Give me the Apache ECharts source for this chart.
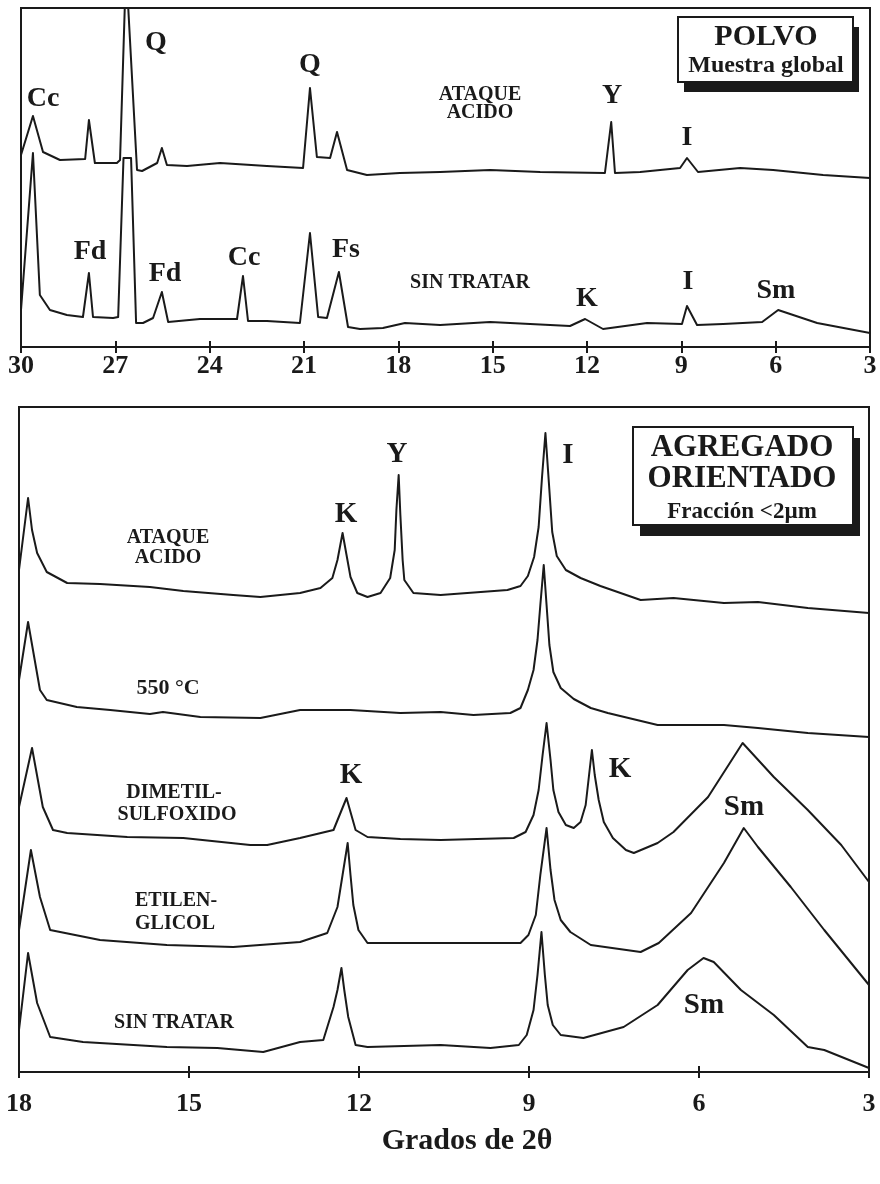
<!DOCTYPE html>
<html>
<head>
<meta charset="utf-8">
<script src="https://cdn.jsdelivr.net/npm/echarts@6/dist/echarts.min.js"></script>
<style>
  html, body { margin: 0; background: #fff; }
  #chart { width: 880px; height: 1184px; }
</style>
</head>
<body>
<div id="chart"></div>
<script>
// ---- POLVO (muestra global), 2θ 30 -> 3
const polvoAtaqueTheta = [30.0, 29.62, 29.30, 28.76, 27.96, 27.84, 27.65, 26.95, 26.85, 26.66, 26.31, 26.15, 25.67, 25.52, 25.36, 24.72, 23.67, 22.18, 21.03, 20.81, 20.59, 20.17, 19.95, 19.63, 19.0, 17.95, 16.67, 15.08, 13.49, 11.43, 11.23, 11.11, 10.31, 9.04, 8.82, 8.47, 7.13, 6.08, 4.49, 3.0];
const polvoAtaqueInt = [192, 231, 195, 187, 188, 227, 184, 184, 187, 380, 177, 176, 184, 199, 182, 181, 184, 181, 179, 259, 190, 189, 215, 177, 172, 174, 175, 177, 175, 174, 225, 174, 175, 179, 189, 175, 179, 177, 172, 169];

const polvoSinTheta = [30.0, 29.62, 29.40, 29.08, 28.54, 28.03, 27.84, 27.71, 27.07, 26.91, 26.74, 26.50, 26.34, 26.12, 25.80, 25.52, 25.32, 24.31, 23.13, 22.94, 22.78, 22.18, 21.13, 20.81, 20.55, 20.27, 19.89, 19.60, 19.22, 18.49, 17.79, 16.67, 15.08, 12.54, 12.06, 11.49, 10.09, 8.98, 8.82, 8.50, 7.67, 6.43, 5.92, 4.68, 3.0];
const polvoSinInt = [37, 194, 52, 37, 32, 30, 74, 30, 29, 30, 189, 189, 24, 24, 29, 55, 25, 28, 28, 71, 26, 26, 24, 114, 30, 29, 75, 20, 18, 19, 24, 22, 25, 21, 28, 18, 24, 23, 41, 22, 23, 25, 37, 24, 14];

// ---- AGREGADO ORIENTADO (<2um), 2θ 18 -> 3
const aoAtaqueTheta = [18.0, 17.84, 17.77, 17.68, 17.51, 17.15, 16.57, 15.69, 15.10, 14.22, 13.74, 13.04, 12.68, 12.47, 12.38, 12.29, 12.22, 12.15, 12.03, 11.85, 11.62, 11.45, 11.37, 11.34, 11.30, 11.27, 11.23, 11.20, 11.04, 10.56, 9.38, 9.15, 9.02, 8.91, 8.83, 8.77, 8.71, 8.65, 8.59, 8.51, 8.35, 8.09, 7.74, 7.03, 6.45, 5.56, 4.96, 4.08, 3.0];
const aoAtaqueInt = [502, 574, 542, 519, 500, 489, 488, 485, 481, 477, 475, 479, 484, 494, 512, 539, 517, 495, 479, 475, 479, 494, 522, 562, 597, 557, 512, 492, 479, 477, 482, 486, 496, 515, 545, 595, 639, 590, 540, 516, 502, 494, 486, 472, 474, 469, 470, 464, 459];

const ao550Theta = [18.0, 17.84, 17.63, 17.51, 16.98, 16.39, 15.69, 15.46, 14.80, 13.74, 13.04, 12.15, 11.27, 10.56, 9.98, 9.33, 9.15, 9.02, 8.92, 8.85, 8.80, 8.74, 8.69, 8.64, 8.57, 8.44, 8.21, 7.91, 7.61, 6.73, 5.56, 4.96, 4.08, 3.0];
const ao550Int = [392, 450, 382, 372, 365, 362, 358, 360, 355, 354, 362, 362, 359, 360, 357, 359, 364, 382, 402, 432, 467, 507, 467, 427, 400, 384, 373, 364, 359, 347, 347, 344, 339, 335];

const aoDmsoTheta = [18.0, 17.77, 17.58, 17.40, 17.15, 16.09, 15.10, 13.92, 13.62, 13.04, 12.45, 12.22, 12.06, 11.85, 11.27, 10.56, 9.27, 9.06, 8.92, 8.83, 8.76, 8.69, 8.62, 8.57, 8.48, 8.35, 8.21, 8.09, 8.00, 7.95, 7.89, 7.84, 7.77, 7.68, 7.52, 7.29, 7.15, 6.73, 6.45, 5.84, 5.23, 4.68, 4.08, 3.49, 3.0];
const aoDmsoInt = [265, 324, 265, 242, 239, 235, 234, 227, 227, 234, 242, 274, 242, 235, 233, 232, 234, 240, 257, 282, 317, 349, 312, 282, 260, 247, 244, 250, 267, 292, 322, 297, 272, 250, 234, 222, 219, 229, 240, 275, 329, 295, 262, 227, 190];

const aoGlicolTheta = [18.0, 17.79, 17.63, 17.45, 16.57, 15.39, 14.22, 13.04, 12.56, 12.38, 12.29, 12.20, 12.15, 12.10, 12.01, 11.85, 10.56, 9.15, 9.01, 8.88, 8.80, 8.69, 8.62, 8.55, 8.44, 8.27, 7.91, 7.03, 6.71, 6.14, 5.56, 5.21, 4.96, 4.38, 3.79, 3.0];
const aoGlicolInt = [142, 222, 175, 142, 132, 127, 125, 130, 139, 165, 197, 229, 197, 167, 142, 129, 129, 129, 137, 157, 197, 244, 202, 172, 152, 140, 127, 120, 129, 159, 209, 244, 225, 185, 142, 87];

const aoSinTheta = [18.0, 17.84, 17.68, 17.45, 16.87, 15.39, 14.50, 13.69, 13.04, 12.63, 12.45, 12.38, 12.31, 12.26, 12.19, 12.06, 11.85, 10.56, 9.68, 9.18, 9.04, 8.92, 8.85, 8.78, 8.72, 8.67, 8.58, 8.44, 8.04, 7.33, 6.73, 6.20, 5.92, 5.74, 5.26, 4.68, 4.08, 3.79, 3.0];
const aoSinInt = [42, 119, 69, 35, 30, 25, 24, 20, 30, 32, 65, 82, 104, 82, 55, 27, 25, 27, 24, 27, 37, 62, 97, 140, 97, 67, 47, 37, 34, 45, 67, 102, 114, 110, 82, 57, 25, 22, 4];

const topTicks = [30, 27, 24, 21, 18, 15, 12, 9, 6, 3];
const bottomTicks = [18, 15, 12, 9, 6, 3];

const INK = '#1a1a1a';
const FONT = '"Liberation Serif", "DejaVu Serif", serif';

const zip = (t, v) => t.map((x, i) => [x, v[i]]);

function trace(name, theta, vals, xi, yi) {
    return {
        name: name,
        type: 'line',
        xAxisIndex: xi,
        yAxisIndex: yi,
        data: zip(theta, vals),
        symbol: 'none',
        clip: true,
        silent: true,
        lineStyle: { color: INK, width: 2, join: 'round', cap: 'round' },
        z: 3
    };
}

function xAxisFor(grid, ticks, margin, overlay) {
    const lo = Math.min.apply(null, ticks), hi = Math.max.apply(null, ticks);
    return {
        gridIndex: grid,
        type: 'value',
        position: 'bottom',
        inverse: true,
        min: lo,
        max: hi,
        interval: 3,
        axisLine: { show: !overlay, onZero: false, lineStyle: { color: INK, width: 2 } },
        axisTick: { inside: overlay, length: 6, lineStyle: { color: INK, width: 2 } },
        axisLabel: {
            show: !overlay, color: INK, fontFamily: FONT, fontWeight: 'bold',
            fontSize: 26, margin: margin
        },
        splitLine: { show: false }
    };
}

// annotation texts: [text, x, y, size]
const notes = [
    ['Cc', 43, 99, 28], ['Q', 156, 43, 28], ['Q', 310, 65, 28],
    ['ATAQUE', 480, 95, 20], ['ACIDO', 480, 113, 20],
    ['Y', 612, 96, 28], ['I', 687, 138, 28],
    ['Fd', 90, 252, 28], ['Fd', 165, 274, 28], ['Cc', 244, 258, 28], ['Fs', 346, 250, 28],
    ['SIN TRATAR', 470, 283, 20], ['K', 587, 299, 28], ['I', 688, 282, 28], ['Sm', 776, 291, 28],
    ['POLVO', 766, 37, 30], ['Muestra global', 766, 66, 24],
    ['ATAQUE', 168, 538, 20], ['ACIDO', 168, 558, 20],
    ['K', 346, 515, 29], ['Y', 397, 455, 29], ['I', 568, 456, 29],
    ['AGREGADO', 742, 448, 31], ['ORIENTADO', 742, 479, 31], ['Fracción <2µm', 742, 512, 23],
    ['550 °C', 168, 688, 22],
    ['DIMETIL-', 174, 793, 20], ['SULFOXIDO', 177, 815, 20],
    ['K', 351, 776, 29], ['K', 620, 770, 29], ['Sm', 744, 808, 29],
    ['ETILEN-', 176, 901, 20], ['GLICOL', 175, 924, 20],
    ['SIN TRATAR', 174, 1023, 20], ['Sm', 704, 1006, 29],
    ['Grados de 2θ', 467, 1141, 30]
];

const boxes = [
    { x: 678, y: 17, w: 175, h: 65, dx: 6, dy: 10 },
    { x: 633, y: 427, w: 220, h: 98, dx: 7, dy: 11 }
];

const graphics = [];
boxes.forEach(b => {
    graphics.push({ type: 'rect', z: 10, shape: { x: b.x + b.dx, y: b.y + b.dy, width: b.w, height: b.h }, style: { fill: INK } });
    graphics.push({ type: 'rect', z: 11, shape: { x: b.x, y: b.y, width: b.w, height: b.h }, style: { fill: '#fff', stroke: INK, lineWidth: 2 } });
});
notes.forEach(n => {
    graphics.push({
        type: 'text', z: 12,
        style: {
            text: n[0], x: n[1], y: n[2], fill: INK,
            font: 'bold ' + n[3] + 'px ' + FONT,
            textAlign: 'center', textVerticalAlign: 'middle'
        }
    });
});

const chart = echarts.init(document.getElementById('chart'), null, { renderer: 'canvas' });
chart.setOption({
    animation: false,
    backgroundColor: '#fff',
    grid: [
        { left: 21, top: 8, width: 849, height: 339, show: true, borderColor: INK, borderWidth: 2 },
        { left: 19, top: 407, width: 850, height: 665, show: true, borderColor: INK, borderWidth: 2 }
    ],
    xAxis: [
        xAxisFor(0, topTicks, 6, false),
        xAxisFor(0, topTicks, 6, true),
        xAxisFor(1, bottomTicks, 19, false),
        xAxisFor(1, bottomTicks, 19, true)
    ],
    yAxis: [
        { gridIndex: 0, type: 'value', min: 0, max: 339, show: false },
        { gridIndex: 1, type: 'value', min: 0, max: 665, show: false }
    ],
    series: [
        trace('POLVO ataque acido', polvoAtaqueTheta, polvoAtaqueInt, 0, 0),
        trace('POLVO sin tratar', polvoSinTheta, polvoSinInt, 0, 0),
        trace('AO ataque acido', aoAtaqueTheta, aoAtaqueInt, 2, 1),
        trace('AO 550', ao550Theta, ao550Int, 2, 1),
        trace('AO dimetilsulfoxido', aoDmsoTheta, aoDmsoInt, 2, 1),
        trace('AO etilenglicol', aoGlicolTheta, aoGlicolInt, 2, 1),
        trace('AO sin tratar', aoSinTheta, aoSinInt, 2, 1)
    ],
    graphic: graphics
});
</script>
</body>
</html>
